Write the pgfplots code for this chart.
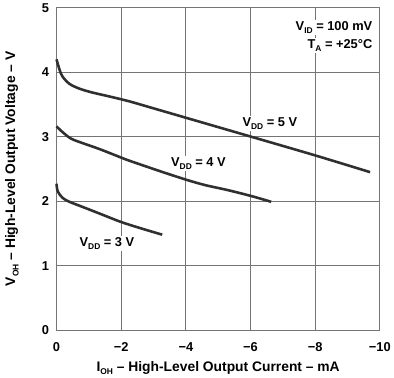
\documentclass[border=0pt]{standalone}
\usepackage{pgfplots}
\pgfplotsset{compat=1.18}
\usepackage{fontspec}
\setmainfont{Liberation Sans}
\newcommand\sub[1]{\raisebox{-0.45ex}{\fontsize{8.5}{9}\selectfont #1}}
\definecolor{curve}{HTML}{303030}
\definecolor{gridc}{HTML}{757575}
\begin{document}
\begin{tikzpicture}[x=1bp,y=1bp]
\begin{axis}[
  scale only axis,
  width=326bp, height=325bp,
  xmin=-10, xmax=0, ymin=0, ymax=5,
  x dir=reverse,
  xtick={0,-2,-4,-6,-8,-10},
  xticklabels={0,−2,−4,−6,−8,−10},
  ytick={0,1,2,3,4,5},
  yticklabels={0,1,2,3,4,5},
  grid=major,
  major grid style={gridc, line width=0.9bp},
  axis line style={gridc, line width=0.9bp},
  major tick length=0pt,
  tick label style={font=\fontsize{13}{15}\selectfont\bfseries},
  xticklabel style={anchor=center, yshift=-17bp},
  yticklabel style={anchor=east, xshift=-4bp},
  xlabel={I\sub{OH} – High-Level Output Current – mA},
  ylabel={V\sub{OH} – High-Level Output Voltage – V},
  label style={font=\fontsize{14}{15}\selectfont\bfseries},
  xlabel style={at={(axis description cs:0.5,-0.117)}, anchor=center},
  ylabel style={at={(axis description cs:-0.138,0.5)}, anchor=center},
  clip=false,
]
\path (axis description cs:-0.1748,-0.1477) (axis description cs:1.0337,1.0154);
\addplot[curve, line width=2.6bp, smooth, tension=0.5] coordinates {
(0,4.2) (-0.1,4.03) (-0.19,3.93) (-0.4,3.82) (-0.71,3.745) (-1.11,3.685) (-1.63,3.625) (-2.24,3.55) (-3.0,3.44) (-4.03,3.29) (-6.02,3.0) (-8.0,2.71) (-9.7,2.45)};
\addplot[curve, line width=2.6bp, smooth, tension=0.5] coordinates {
(0,3.16) (-0.19,3.07) (-0.45,2.97) (-0.81,2.9) (-1.32,2.81) (-1.98,2.68) (-2.24,2.63) (-3.26,2.455) (-4.03,2.33) (-4.59,2.25) (-5.31,2.17) (-6.02,2.08) (-6.64,1.99)};
\addplot[curve, line width=2.6bp, smooth, tension=0.5] coordinates {
(0,2.27) (-0.04,2.15) (-0.19,2.05) (-0.4,1.99) (-0.81,1.91) (-1.32,1.81) (-1.98,1.68) (-2.6,1.58) (-3.27,1.48)};
\begin{scope}[every node/.style={font=\fontsize{13}{15}\selectfont\bfseries, fill=white, inner sep=1.5bp}]
\node[anchor=east] at (axis cs:-9.82,4.7) {V\sub{ID} = 100 mV};
\node[anchor=east] at (axis cs:-9.82,4.42) {T\sub{A} = +25°C};
\node at (axis cs:-6.6,3.2) {V\sub{DD} = 5 V};
\node at (axis cs:-4.39,2.58) {V\sub{DD} = 4 V};
\node at (axis cs:-1.56,1.35) {V\sub{DD} = 3 V};
\end{scope}
\end{axis}
\end{tikzpicture}
\end{document}
